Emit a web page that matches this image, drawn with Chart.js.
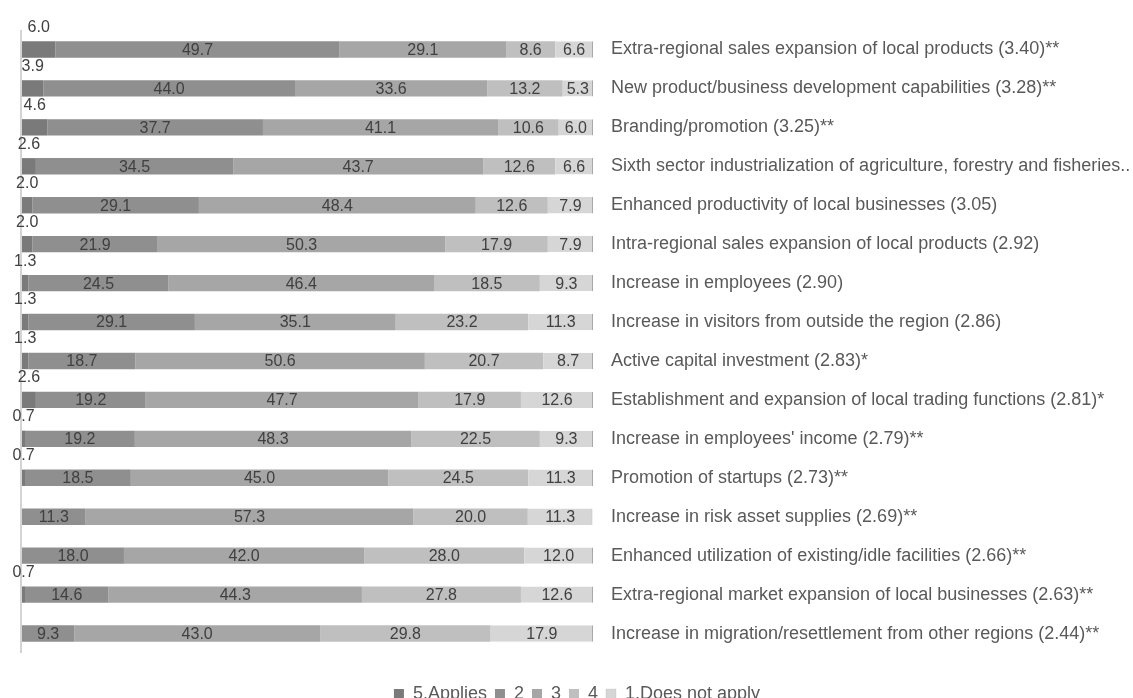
<!DOCTYPE html>
<html>
<head>
<meta charset="utf-8">
<script src="https://cdn.jsdelivr.net/npm/chart.js@4.4.1/dist/chart.umd.min.js"></script>
<style>
  html, body { margin: 0; padding: 0; background: #fff; }
  .chart-wrap { width: 1133px; height: 698px; position: relative; }
</style>
</head>
<body>
<div class="chart-wrap"><canvas id="chart-bar"></canvas></div>
<script>
const categories = [
  "Extra-regional sales expansion of local products (3.40)**",
  "New product/business development capabilities (3.28)**",
  "Branding/promotion (3.25)**",
  "Sixth sector industrialization of agriculture, forestry and fisheries..",
  "Enhanced productivity of local businesses (3.05)",
  "Intra-regional sales expansion of local products (2.92)",
  "Increase in employees (2.90)",
  "Increase in visitors from outside the region (2.86)",
  "Active capital investment (2.83)*",
  "Establishment and expansion of local trading functions (2.81)*",
  "Increase in employees' income (2.79)**",
  "Promotion of startups (2.73)**",
  "Increase in risk asset supplies (2.69)**",
  "Enhanced utilization of existing/idle facilities (2.66)**",
  "Extra-regional market expansion of local businesses (2.63)**",
  "Increase in migration/resettlement from other regions (2.44)**",
];

const seriesNames = ["5.Applies", "2", "3", "4", "1.Does not apply"];

const applies5 = [6.0, 3.9, 4.6, 2.6, 2.0, 2.0, 1.3, 1.3, 1.3, 2.6, 0.7, 0.7, 0, 0, 0.7, 0];
const level2 = [49.7, 44.0, 37.7, 34.5, 29.1, 21.9, 24.5, 29.1, 18.7, 19.2, 19.2, 18.5, 11.3, 18.0, 14.6, 9.3];
const level3 = [29.1, 33.6, 41.1, 43.7, 48.4, 50.3, 46.4, 35.1, 50.6, 47.7, 48.3, 45.0, 57.3, 42.0, 44.3, 43.0];
const level4 = [8.6, 13.2, 10.6, 12.6, 12.6, 17.9, 18.5, 23.2, 20.7, 17.9, 22.5, 24.5, 20.0, 28.0, 27.8, 29.8];
const notApply1 = [6.6, 5.3, 6.0, 6.6, 7.9, 7.9, 9.3, 11.3, 8.7, 12.6, 9.3, 11.3, 11.3, 12.0, 12.6, 17.9];

const colors = ["#7a7a7a", "#8f8f8f", "#a6a6a6", "#bfbfbf", "#d6d6d6"];
const FONT = "'Liberation Sans', Arial, sans-serif";

// value labels: inside segments, first series above the bar
const valueLabels = {
  id: "valueLabels",
  afterDatasetsDraw(chart) {
    const ctx = chart.ctx;
    ctx.save();
    ctx.font = "16px " + FONT;
    ctx.fillStyle = "#404040";
    ctx.textAlign = "center";
    ctx.textBaseline = "middle";
    chart.data.datasets.forEach((ds, di) => {
      const meta = chart.getDatasetMeta(di);
      meta.data.forEach((bar, i) => {
        const v = ds.data[i];
        if (!v) return;
        const cx = (bar.x + bar.base) / 2;
        if (di === 0) {
          ctx.fillText(v.toFixed(1), cx, bar.y - 22);
        } else {
          ctx.fillText(v.toFixed(1), cx, bar.y + 1);
        }
      });
    });
    ctx.restore();
  },
};

const allSeries = [applies5, level2, level3, level4, notApply1];

var ctx1 = document.getElementById("chart-bar").getContext("2d");
new Chart(ctx1, {
  type: "bar",
  data: {
    labels: categories,
    datasets: allSeries.map((d, k) => ({
      label: seriesNames[k],
      data: d,
      backgroundColor: colors[k],
      borderWidth: k === 4 ? { top: 0, bottom: 0, left: 0, right: 1 } : 0,
      borderColor: "#a8a8a8",
      borderSkipped: false,
      barPercentage: 0.42,
      categoryPercentage: 1,
    })),
  },
  options: {
    indexAxis: "y",
    responsive: true,
    maintainAspectRatio: false,
    animation: false,
    layout: {
      padding: { top: 30, left: 21, right: 0, bottom: -15 },
    },
    plugins: {
      legend: {
        position: "bottom",
        labels: {
          boxWidth: 10,
          boxHeight: 10,
          padding: 8,
          color: "#595959",
          font: { size: 18, family: FONT },
        },
      },
      tooltip: { enabled: false },
    },
    scales: {
      x: {
        stacked: true,
        min: 0,
        max: 100,
        border: { display: false },
        grid: {
          drawTicks: false,
          color: (c) => (c.tick && c.tick.value === 0 ? "#d4d4d4" : "rgba(0,0,0,0)"),
          lineWidth: 2,
        },
        ticks: { display: false },
        afterFit: (scale) => {
          scale.height = 24;
        },
      },
      y: {
        stacked: true,
        position: "right",
        border: { display: false },
        grid: { display: false, drawTicks: false },
        afterFit: (scale) => {
          scale.width = 540;
        },
        ticks: {
          padding: 18,
          color: "#595959",
          autoSkip: false,
          font: { size: 18, family: FONT },
        },
      },
    },
  },
  plugins: [valueLabels],
});
</script>
</body>
</html>
